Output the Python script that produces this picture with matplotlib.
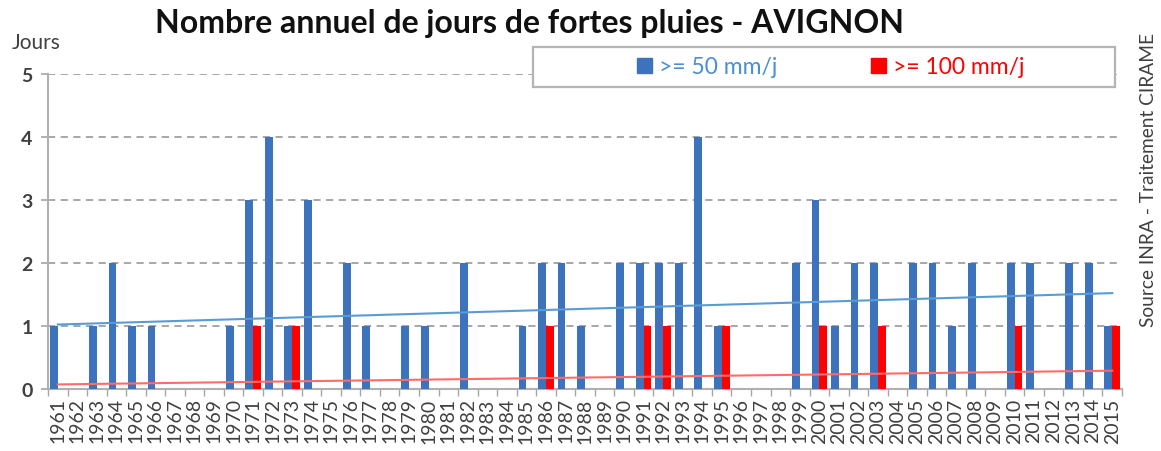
import numpy as np
import matplotlib.pyplot as plt
from matplotlib.patches import Rectangle

plt.rcParams['font.family'] = ['Lato', 'DejaVu Sans']

# années 1961 -> 2015
years = list(range(1961, 2016))

# nombre de jours >= 50 mm/j
jours_50 = [1, 0, 1, 2, 1, 1, 0, 0, 0, 1,
            3, 4, 1, 3, 0, 2, 1, 0, 1, 1,
            0, 2, 0, 0, 1, 2, 2, 1, 0, 2,
            2, 2, 2, 4, 1, 0, 0, 0, 2, 3,
            1, 2, 2, 0, 2, 2, 1, 2, 0, 2,
            2, 0, 2, 2, 1]

# nombre de jours >= 100 mm/j
jours_100 = [0, 0, 0, 0, 0, 0, 0, 0, 0, 0,
             1, 0, 1, 0, 0, 0, 0, 0, 0, 0,
             0, 0, 0, 0, 0, 1, 0, 0, 0, 0,
             1, 1, 0, 0, 1, 0, 0, 0, 0, 1,
             0, 0, 1, 0, 0, 0, 0, 0, 0, 1,
             0, 0, 0, 0, 1]

blue = '#3d72bd'
red = '#ff0000'
grey_txt = '#404040'

x = np.arange(len(years))

fig = plt.figure(figsize=(11.61, 4.52), dpi=100)
ax = fig.add_axes([48 / 1161, 1 - 390 / 452, (1122 - 48) / 1161, (390 - 75) / 452])

ax.bar(x - 0.2, jours_50, width=0.4, color=blue, zorder=3)
ax.bar(x + 0.2, jours_100, width=0.4, color=red, zorder=3)

# courbes de tendance linéaires (comme Excel)
p50 = np.polyfit(x, jours_50, 1)
p100 = np.polyfit(x, jours_100, 1)
ax.plot(x, np.polyval(p50, x), color='#5b9bd5', lw=1.5, zorder=4)
ax.plot(x, np.polyval(p100, x), color='#ff6b6b', lw=1.5, zorder=4)

ax.set_xlim(-0.5, len(years) - 0.5)
ax.set_ylim(0, 5)
ax.set_yticks(range(6))
ax.tick_params(axis='y', labelsize=14, colors=grey_txt, length=5, width=1.2, pad=6)
for t in ax.get_yticklabels():
    t.set_fontweight('bold')
ax.tick_params(axis='y', color='#a6a6a6')

ax.set_xticks(x)
ax.set_xticklabels([str(y) for y in years], rotation=90, fontsize=14, color=grey_txt)
ax.tick_params(axis='x', length=0, pad=6)
ax.set_xticks(np.arange(len(years) + 1) - 0.5, minor=True)
ax.tick_params(axis='x', which='minor', length=5, width=1, color='#a6a6a6')

for y in range(1, 6):
    ax.axhline(y, color='#a0a0a0', lw=1.3, ls=(0, (4, 3)), zorder=1)

for s in ['top', 'right']:
    ax.spines[s].set_visible(False)
ax.spines['left'].set_color('#b0b0b0')
ax.spines['left'].set_linewidth(1.5)
ax.spines['bottom'].set_color('#b0b0b0')
ax.spines['bottom'].set_linewidth(1.5)

fig.text(0.456, 0.948, 'Nombre annuel de jours de fortes pluies - AVIGNON',
         ha='center', va='center', fontsize=23, fontweight='bold', color='#111111')
fig.text(12 / 1161, 1 - 43 / 452, 'Jours', ha='left', va='center', fontsize=15, color=grey_txt)
fig.text(1148 / 1161, 1 - 180 / 452, 'Source INRA - Traitement CIRAME', rotation=90,
         ha='center', va='center', fontsize=13.8, color=grey_txt)

# cadre de la légende
fig.patches.append(Rectangle((533 / 1161, 1 - 88 / 452), (1115 - 533) / 1161, 40 / 452,
                             transform=fig.transFigure, facecolor='white', edgecolor='#b4b4b4',
                             lw=1.6, zorder=5))
h1 = Rectangle((0, 0), 1, 1, color=blue)
h2 = Rectangle((0, 0), 1, 1, color=red)
leg = fig.legend([h1, h2], ['>= 50 mm/j', '>= 100 mm/j'], loc='center',
                 bbox_to_anchor=(831 / 1161, 1 - 68 / 452), ncol=2, frameon=False,
                 fontsize=16.5, labelcolor=['#4a8fd6', red], handlelength=0.65, handleheight=0.65,
                 handletextpad=0.3, columnspacing=4.1)
leg.set_zorder(6)

fig.savefig('out.png', dpi=100)
